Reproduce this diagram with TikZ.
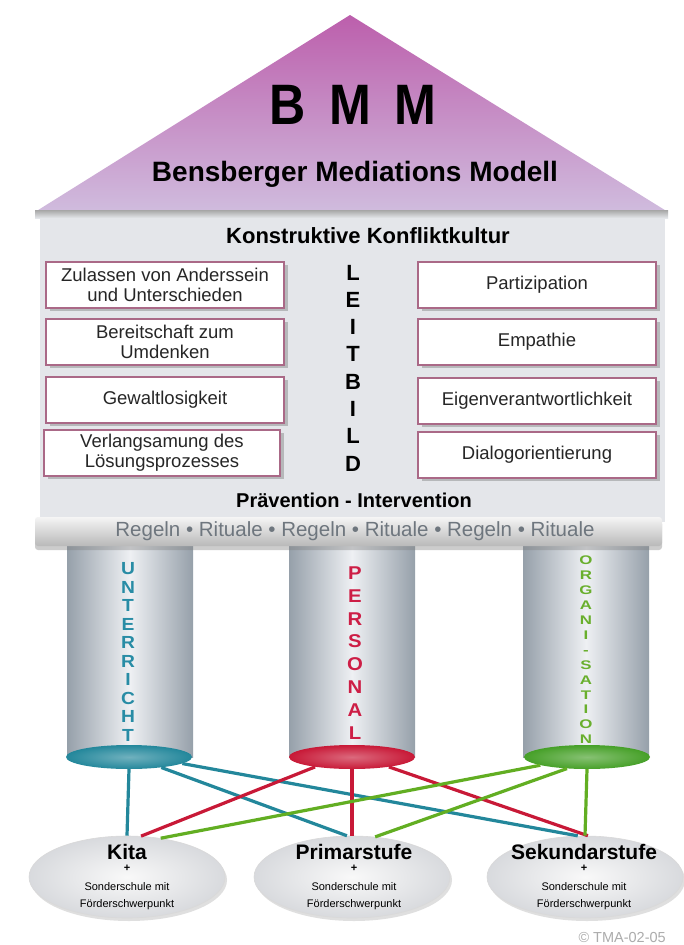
\documentclass[tikz,border=0pt]{standalone}
\usepackage{fontspec}
\setmainfont{Liberation Sans}
\usetikzlibrary{shapes.geometric,shadows}
\definecolor{rooftop}{RGB}{188,95,172}
\definecolor{roofbot}{RGB}{208,188,222}
\definecolor{bodygray}{RGB}{228,230,234}
\definecolor{boxedge}{RGB}{170,105,135}
\definecolor{tealc}{RGB}{35,135,155}
\definecolor{redc}{RGB}{200,25,55}
\definecolor{greenc}{RGB}{70,160,40}
\definecolor{lteal}{RGB}{40,140,165}
\definecolor{lred}{RGB}{205,30,70}
\definecolor{lgreen}{RGB}{105,175,45}
\definecolor{colD}{RGB}{150,160,170}
\definecolor{colM}{RGB}{238,240,243}
\definecolor{levelfill}{RGB}{226,228,232}
\definecolor{rulegray}{RGB}{110,118,126}
\tikzset{
  box/.style={draw=boxedge, line width=1.1pt, fill=white, minimum width=238pt, minimum height=46pt,
    align=center, inner sep=2pt, text=black!85, font=\fontsize{18.5}{20}\selectfont,
    drop shadow={opacity=0.45, shadow xshift=4pt, shadow yshift=-3pt}},
  pillarbase/.style={ellipse, minimum width=126pt, minimum height=24pt, inner sep=0pt, draw=none},
  level/.style={ellipse, minimum width=196pt, minimum height=82pt, inner sep=0pt,
    inner color=white!95!gray, outer color=levelfill!90!gray,
    draw=white!70!gray, line width=0.6pt,
    drop shadow={opacity=0.25, shadow xshift=2pt, shadow yshift=-3pt}},
  link/.style={line width=3.2pt},
  colword/.style={align=center, xscale=1.1, font=\bfseries\fontsize{17.5}{18.5}\selectfont},
  leveltitle/.style={font=\bfseries\fontsize{21}{24}\selectfont},
  levelsub/.style={align=center, font=\fontsize{11}{17}\selectfont}
}
\begin{document}
\begin{tikzpicture}[x=1pt,y=-1pt]
\useasboundingbox (0,0) rectangle (684,945);
\fill[white] (0,0) rectangle (684,945);

% body of the house
\fill[bodygray] (40,212) rectangle (665,522);
% roof
\shade[top color=rooftop, bottom color=roofbot] (350,15) -- (668,212) -- (35,212) -- cycle;
\shade[top color=gray!70, bottom color=bodygray] (35,210) rectangle (668,218);
\node[xscale=0.88, font=\bfseries\fontsize{57}{60}\selectfont] (bmm) at (353,105) {B\hspace{27pt}M\hspace{27pt}M};
\node[font=\bfseries\fontsize{28}{32}\selectfont] (bmmtxt) at (355,174) {Bensberger Mediations Modell};

\node[font=\bfseries\fontsize{22}{26}\selectfont] (kk) at (368,236) {Konstruktive Konfliktkultur};

% left boxes
\node[box] (l1) at (165,285) {Zulassen von Anderssein\\und Unterschieden};
\node[box] (l2) at (165,342) {Bereitschaft zum\\Umdenken};
\node[box] (l3) at (165,400) {Gewaltlosigkeit};
\node[box, minimum width=236pt] (l4) at (162,453) {Verlangsamung des\\Lösungsprozesses};
% right boxes
\node[box] (r1) at (537,285) {Partizipation};
\node[box] (r2) at (537,342) {Empathie};
\node[box] (r3) at (537,401) {Eigenverantwortlichkeit};
\node[box] (r4) at (537,455) {Dialogorientierung};

\node[align=center, font=\bfseries\fontsize{22}{27.3}\selectfont] (lb) at (353,368) {L\\E\\I\\T\\B\\I\\L\\D};

\node[font=\bfseries\fontsize{20}{22}\selectfont] (pi) at (354,500) {Prävention - Intervention};

% pillars
\shade[left color=colD, right color=colD, middle color=colM] (67,540) rectangle (193,757);
\shade[left color=colD, right color=colD, middle color=colM] (289,540) rectangle (415,757);
\shade[left color=colD, right color=colD, middle color=colM] (523,540) rectangle (649,757);

% beam
\shade[top color=white!92!gray, bottom color=gray!55, rounded corners=3pt,
  drop shadow={opacity=0.4, shadow xshift=0pt, shadow yshift=-4pt}] (35,517) rectangle (662,546);
\node[text=rulegray, font=\fontsize{20.5}{22}\selectfont] (rr) at (355,531)
  {Regeln • Rituale • Regeln • Rituale • Regeln • Rituale};

% pillar letters
\node[colword, text=lteal] (wu) at (128,652) {U\\N\\T\\E\\R\\R\\I\\C\\H\\T};
\node[colword, text=lred, font=\bfseries\fontsize{18.5}{22.9}\selectfont] (wp) at (355,653) {P\\E\\R\\S\\O\\N\\A\\L};
\node[align=center, text=lgreen, xscale=1.35, font=\bfseries\fontsize{12.5}{14.9}\selectfont] (wo) at (586,650)
  {O\\R\\G\\A\\N\\I\\-\\S\\A\\T\\I\\O\\N};

% pillar bases
\node[pillarbase, inner color=tealc!65!white, outer color=tealc] (cu) at (129,757) {};
\node[pillarbase, inner color=redc!65!white, outer color=redc] (cp) at (352,757) {};
\node[pillarbase, inner color=greenc!65!white, outer color=greenc] (co) at (587,757) {};

% levels
\node[level] (kita) at (127,877) {};
\node[level] (prim) at (352,877) {};
\node[level] (sek) at (585,877) {};

\node[leveltitle] (kitat) at (127,852) {Kita};
\node[leveltitle] (primt) at (354,852) {Primarstufe};
\node[leveltitle] (sekt) at (584,852) {Sekundarstufe};
\foreach \n/\x in {a/127, b/354, c/584}{
  \node[font=\bfseries\fontsize{11}{12}\selectfont] (plus\n) at (\x,868) {+};
  \node[levelsub] (sub\n) at (\x,896) {Sonderschule mit\\Förderschwerpunkt};
}

% links
\draw[link, tealc] (cu.south) -- (kita.north);
\draw[link, tealc] (cu.-18) -- (prim.97);
\draw[link, tealc] (cu.-7) -- (sek.100);
\draw[link, redc] (cp.-165) -- (kita.71);
\draw[link, redc] (cp.south) -- (prim.north);
\draw[link, redc] (cp.-15) -- (sek.86);
\draw[link, greenc!85!yellow] (co.-170) -- (kita.49);
\draw[link, greenc!85!yellow] (co.-150) -- (prim.60);
\draw[link, greenc!85!yellow] (co.south) -- (sek.north);

\node[text=gray!65, anchor=west, font=\fontsize{14.5}{16}\selectfont] (copy) at (575,937) {© TMA-02-05};
\end{tikzpicture}
\end{document}
